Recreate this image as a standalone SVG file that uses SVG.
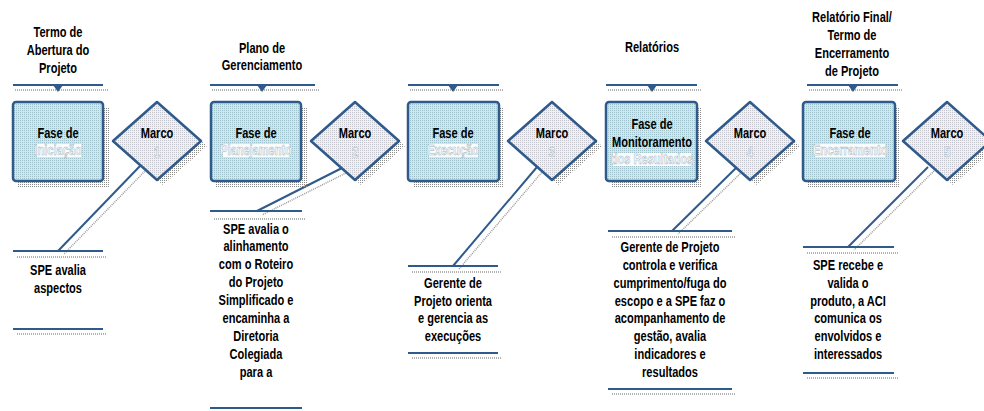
<svg xmlns="http://www.w3.org/2000/svg" width="984" height="411" viewBox="0 0 984 411">
<defs>
<pattern id="pBlue" width="2" height="2" patternUnits="userSpaceOnUse"><rect width="2" height="2" fill="#cfe8ee"/><rect width="1" height="1" fill="#9fc2cc"/></pattern>
<pattern id="pGrey" width="2" height="2" patternUnits="userSpaceOnUse"><rect width="2" height="2" fill="#f0f0f5"/><rect width="1" height="1" fill="#c4c4cc"/></pattern>
<pattern id="pShadow" width="2" height="2" patternUnits="userSpaceOnUse"><rect width="1" height="1" fill="#8c8c8c"/></pattern>
<style>
.t{font-family:"Liberation Sans Narrow","Arial Narrow","Liberation Sans",sans-serif;font-size:14px;font-weight:bold;fill:#000;text-anchor:middle}
.w{fill:#ffffff;stroke:#98aebb;stroke-width:0.5}
.ln{stroke:#2e5a8c;stroke-width:2;fill:none}
.dl{stroke:#9a9a9a;stroke-width:1.5;stroke-dasharray:1 1;fill:none}
.box{fill:url(#pBlue);stroke:#2e5a8c;stroke-width:2.5}
.dia{fill:url(#pGrey);stroke:#2e5a8c;stroke-width:2.5;stroke-linejoin:round}
.sh{fill:url(#pShadow)}
.tri{fill:#2e5a8c}
.hl{fill:#ffffff;opacity:0.9}
</style>
</defs>
<rect width="984" height="411" fill="#ffffff"/>

<g id="title1"><text class="t" transform="translate(58 37) scale(0.79 1)">Termo de</text><text class="t" transform="translate(58 55) scale(0.79 1)">Abertura do</text><text class="t" transform="translate(58 73) scale(0.79 1)">Projeto</text></g>
<g id="title2"><text class="t" transform="translate(262 53) scale(0.79 1)">Plano de</text><text class="t" transform="translate(262 70) scale(0.79 1)">Gerenciamento</text></g>
<g id="title4"><text class="t" transform="translate(652 52) scale(0.79 1)">Relatórios</text></g>
<g id="title5"><text class="t" transform="translate(852 22) scale(0.79 1)">Relatório Final/</text><text class="t" transform="translate(852 40) scale(0.79 1)">Termo de</text><text class="t" transform="translate(852 58) scale(0.79 1)">Encerramento</text><text class="t" transform="translate(852 76) scale(0.79 1)">de Projeto</text></g>

<g id="connectors">
<line class="dl" x1="15" y1="90" x2="108" y2="90"/><line class="ln" x1="13" y1="85" x2="103" y2="85"/><path class="tri" d="M53 85 L63 85 L58 92 Z"/>
<line class="dl" x1="212" y1="90" x2="320" y2="90"/><line class="ln" x1="210" y1="85" x2="315" y2="85"/><path class="tri" d="M257 85 L267 85 L262 92 Z"/>
<line class="dl" x1="410" y1="90" x2="503" y2="90"/><line class="ln" x1="408" y1="85" x2="499" y2="85"/><path class="tri" d="M448 85 L458 85 L453 92 Z"/>
<line class="dl" x1="608" y1="90" x2="701" y2="90"/><line class="ln" x1="606" y1="85" x2="697" y2="85"/><path class="tri" d="M647 85 L657 85 L652 92 Z"/>
<line class="dl" x1="809" y1="90" x2="903" y2="90"/><line class="ln" x1="807" y1="85" x2="898" y2="85"/><path class="tri" d="M848 85 L858 85 L853 92 Z"/>

<line class="dl" x1="146" y1="170" x2="64" y2="254"/><line class="ln" x1="140" y1="166" x2="58" y2="251"/>
<line class="dl" x1="348" y1="172" x2="262" y2="215"/><line class="ln" x1="342" y1="168" x2="257" y2="211"/>
<line class="dl" x1="543" y1="171" x2="459" y2="269"/><line class="ln" x1="537" y1="167" x2="453" y2="266"/>
<line class="dl" x1="743" y1="171" x2="678" y2="234"/><line class="ln" x1="737" y1="167" x2="672" y2="231"/>
<line class="dl" x1="934" y1="171" x2="854" y2="250"/><line class="ln" x1="928" y1="167" x2="848" y2="247"/>

<line class="ln" x1="13" y1="251" x2="103" y2="251"/><line class="dl" x1="17" y1="257" x2="107" y2="257"/>
<line class="ln" x1="13" y1="329" x2="103" y2="329"/><line class="dl" x1="17" y1="334" x2="107" y2="334"/>
<line class="ln" x1="210" y1="211" x2="302" y2="211"/><line class="dl" x1="214" y1="219" x2="306" y2="219"/>
<line class="ln" x1="210" y1="408" x2="302" y2="408"/>
<line class="ln" x1="408" y1="266" x2="498" y2="266"/><line class="dl" x1="412" y1="272" x2="502" y2="272"/>
<line class="ln" x1="408" y1="353" x2="498" y2="353"/><line class="dl" x1="412" y1="358" x2="502" y2="358"/>
<line class="ln" x1="608" y1="231" x2="732" y2="231"/><line class="dl" x1="612" y1="237" x2="736" y2="237"/>
<line class="ln" x1="608" y1="389" x2="732" y2="389"/><line class="dl" x1="612" y1="394" x2="736" y2="394"/>
<line class="ln" x1="803" y1="247" x2="894" y2="247"/><line class="dl" x1="807" y1="253" x2="898" y2="253"/>
<line class="ln" x1="803" y1="373" x2="894" y2="373"/><line class="dl" x1="807" y1="378" x2="898" y2="378"/>
</g>

<g id="fase1"><rect class="sh" x="18" y="107" width="91" height="80"/><rect class="box" x="13" y="102" width="90" height="79" rx="3"/><text class="t" transform="translate(58 138) scale(0.79 1)">Fase de</text><rect class="hl" x="37" y="144" width="44" height="13"/><text class="t w" transform="translate(58 155) scale(0.79 1)">Iniciação</text></g>
<g id="fase2"><rect class="sh" x="216" y="107" width="91" height="80"/><rect class="box" x="211" y="102" width="90" height="79" rx="3"/><text class="t" transform="translate(256 138) scale(0.79 1)">Fase de</text><rect class="hl" x="223" y="144" width="66" height="13"/><text class="t w" transform="translate(256 155) scale(0.79 1)">Planejamento</text></g>
<g id="fase3"><rect class="sh" x="413" y="107" width="91" height="80"/><rect class="box" x="408" y="102" width="91" height="79" rx="3"/><text class="t" transform="translate(453 138) scale(0.79 1)">Fase de</text><rect class="hl" x="429" y="144" width="49" height="13"/><text class="t w" transform="translate(453 155) scale(0.79 1)">Execução</text></g>
<g id="fase4"><rect class="sh" x="611" y="107" width="91" height="80"/><rect class="box" x="606" y="102" width="91" height="79" rx="3"/><text class="t" transform="translate(652 129) scale(0.79 1)">Fase de</text><text class="t" transform="translate(652 147) scale(0.79 1)">Monitoramento</text><rect class="hl" x="613" y="153" width="78" height="13"/><text class="t w" transform="translate(652 164) scale(0.79 1)">dos Resultados</text></g>
<g id="fase5"><rect class="sh" x="808" y="107" width="92" height="80"/><rect class="box" x="803" y="102" width="92" height="79" rx="3"/><text class="t" transform="translate(850 138) scale(0.79 1)">Fase de</text><rect class="hl" x="815" y="144" width="70" height="13"/><text class="t w" transform="translate(850 155) scale(0.79 1)">Encerramento</text></g>

<g id="marco1"><path class="sh" d="M163 107 L207 146 L163 185 L119 146 Z"/><path class="dia" d="M157 102 L201 141 L157 180 L113 141 Z"/><text class="t" transform="translate(157 138) scale(0.79 1)">Marco</text><text class="t w" transform="translate(157 157) scale(0.79 1)">1</text></g>
<g id="marco2"><path class="sh" d="M361 107 L405 146 L361 185 L317 146 Z"/><path class="dia" d="M355 102 L399 141 L355 180 L311 141 Z"/><text class="t" transform="translate(355 138) scale(0.79 1)">Marco</text><text class="t w" transform="translate(355 157) scale(0.79 1)">2</text></g>
<g id="marco3"><path class="sh" d="M558 107 L602 146 L558 185 L514 146 Z"/><path class="dia" d="M552 102 L596 141 L552 180 L508 141 Z"/><text class="t" transform="translate(552 138) scale(0.79 1)">Marco</text><text class="t w" transform="translate(552 157) scale(0.79 1)">3</text></g>
<g id="marco4"><path class="sh" d="M756 107 L800 146 L756 185 L712 146 Z"/><path class="dia" d="M750 102 L794 141 L750 180 L706 141 Z"/><text class="t" transform="translate(750 138) scale(0.79 1)">Marco</text><text class="t w" transform="translate(750 157) scale(0.79 1)">4</text></g>
<g id="marco5"><path class="sh" d="M953 107 L997 146 L953 185 L909 146 Z"/><path class="dia" d="M947 102 L991 141 L947 180 L903 141 Z"/><text class="t" transform="translate(947 138) scale(0.79 1)">Marco</text><text class="t w" transform="translate(947 157) scale(0.79 1)">5</text></g>

<g id="label1"><text class="t" transform="translate(58 275) scale(0.79 1)">SPE avalia</text><text class="t" transform="translate(58 293) scale(0.79 1)">aspectos</text></g>
<g id="label2"><text class="t" transform="translate(256 234) scale(0.79 1)">SPE avalia o</text><text class="t" transform="translate(256 251) scale(0.79 1)">alinhamento</text><text class="t" transform="translate(256 269) scale(0.79 1)">com o Roteiro</text><text class="t" transform="translate(256 287) scale(0.79 1)">do Projeto</text><text class="t" transform="translate(256 305) scale(0.79 1)">Simplificado e</text><text class="t" transform="translate(256 323) scale(0.79 1)">encaminha a</text><text class="t" transform="translate(256 341) scale(0.79 1)">Diretoria</text><text class="t" transform="translate(256 359) scale(0.79 1)">Colegiada</text><text class="t" transform="translate(256 377) scale(0.79 1)">para a</text></g>
<g id="label3"><text class="t" transform="translate(453 288) scale(0.79 1)">Gerente de</text><text class="t" transform="translate(453 306) scale(0.79 1)">Projeto orienta</text><text class="t" transform="translate(453 323) scale(0.79 1)">e gerencia as</text><text class="t" transform="translate(453 341) scale(0.79 1)">execuções</text></g>
<g id="label4"><text class="t" transform="translate(670 252) scale(0.79 1)">Gerente de Projeto</text><text class="t" transform="translate(670 270) scale(0.79 1)">controla e verifica</text><text class="t" transform="translate(670 288) scale(0.79 1)">cumprimento/fuga do</text><text class="t" transform="translate(670 306) scale(0.79 1)">escopo e a SPE faz o</text><text class="t" transform="translate(670 323) scale(0.79 1)">acompanhamento de</text><text class="t" transform="translate(670 341) scale(0.79 1)">gestão, avalia</text><text class="t" transform="translate(670 359) scale(0.79 1)">indicadores e</text><text class="t" transform="translate(670 377) scale(0.79 1)">resultados</text></g>
<g id="label5"><text class="t" transform="translate(848 270) scale(0.79 1)">SPE recebe e</text><text class="t" transform="translate(848 288) scale(0.79 1)">valida o</text><text class="t" transform="translate(848 306) scale(0.79 1)">produto, a ACI</text><text class="t" transform="translate(848 323) scale(0.79 1)">comunica os</text><text class="t" transform="translate(848 341) scale(0.79 1)">envolvidos e</text><text class="t" transform="translate(848 359) scale(0.79 1)">interessados</text></g>
</svg>
